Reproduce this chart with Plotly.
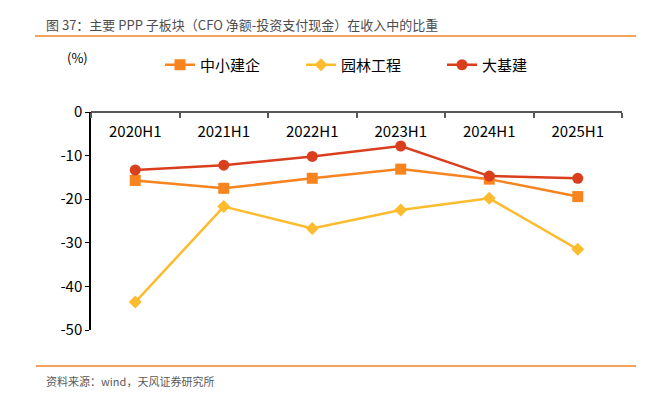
import plotly.graph_objects as go

categories = ["2020H1", "2021H1", "2022H1", "2023H1", "2024H1", "2025H1"]
sme = [-15.7, -17.5, -15.2, -13.1, -15.4, -19.4]
garden = [-43.6, -21.7, -26.7, -22.5, -19.8, -31.5]
infra = [-13.3, -12.2, -10.2, -7.8, -14.7, -15.2]
y_ticks = [0, -10, -20, -30, -40, -50]
y_tick_text = ["0", "-10", "-20", "-30", "-40", "-50"]

FONT = "Noto Sans CJK SC, Open Sans, sans-serif"
W, H = 657, 398
L, R, T, B = 91, 35, 112, 68

fig = go.Figure()
fig.add_trace(go.Scatter(x=categories, y=sme, name="中小建企", mode="lines+markers",
                         line=dict(color="#F7841F", width=2.5),
                         marker=dict(symbol="square", size=11, color="#F7841F")))
fig.add_trace(go.Scatter(x=categories, y=garden, name="园林工程", mode="lines+markers",
                         line=dict(color="#FDBB2E", width=2.5),
                         marker=dict(symbol="diamond", size=10, color="#FDBB2E")))
fig.add_trace(go.Scatter(x=categories, y=infra, name="大基建", mode="lines+markers",
                         line=dict(color="#DA3F1D", width=2.5),
                         marker=dict(symbol="circle", size=11, color="#DA3F1D")))

pw = W - L - R
ph = H - T - B

def px_x(p):
    return (p - L) / pw

def px_y(p):
    return (H - B - p) / ph

fig.update_layout(
    width=W, height=H,
    margin=dict(l=L, r=R, t=T, b=B, autoexpand=False),
    paper_bgcolor="white", plot_bgcolor="white",
    font=dict(family=FONT, color="#000000", size=14),
    showlegend=True,
    legend=dict(orientation="h", x=px_x(160), y=px_y(65), xanchor="left", yanchor="middle",
                font=dict(size=15, color="#000000", family=FONT),
                entrywidth=96, entrywidthmode="pixels", itemwidth=30,
                bgcolor="rgba(0,0,0,0)"),
    xaxis=dict(type="category", side="bottom", anchor="free", position=1,
               showline=True, linecolor="#595959", linewidth=1.5,
               ticks="outside", ticklen=5, tickcolor="#595959", tickwidth=1.5,
               tickson="boundaries", showgrid=False, zeroline=False,
               ticklabelstandoff=6,
               tickfont=dict(size=15, color="#000000"), range=[-0.5, 5.5]),
    yaxis=dict(range=[-50, 0], tickvals=y_ticks, ticktext=y_tick_text, showline=True,
               linecolor="#000000", linewidth=1.5, ticks="outside", ticklen=4,
               tickcolor="#000000", showgrid=False, zeroline=False,
               tickfont=dict(size=15, color="#000000")),
)

shapes = [
    dict(type="line", xref="paper", yref="paper", x0=px_x(35), x1=px_x(636),
         y0=px_y(36), y1=px_y(36), line=dict(color="#F5A25A", width=2)),
    dict(type="line", xref="paper", yref="paper", x0=px_x(36), x1=px_x(636),
         y0=px_y(366), y1=px_y(366), line=dict(color="#F5A25A", width=2)),
]
fig.update_layout(shapes=shapes)

fig.add_annotation(text="图 37：主要 PPP 子板块（CFO 净额-投资支付现金）在收入中的比重",
                   xref="paper", yref="paper", x=px_x(44), y=px_y(24),
                   xanchor="left", yanchor="middle", showarrow=False,
                   font=dict(size=13, color="#4D4D4D", family=FONT))
fig.add_annotation(text="(%)", xref="paper", yref="paper", x=px_x(65), y=px_y(57),
                   xanchor="left", yanchor="middle", showarrow=False,
                   font=dict(size=13, color="#000000", family=FONT))
fig.add_annotation(text="资料来源：wind，天风证券研究所", xref="paper", yref="paper",
                   x=px_x(44), y=px_y(381), xanchor="left", yanchor="middle", showarrow=False,
                   font=dict(size=11, color="#595959", family=FONT))

fig.write_html("out.html", config={"displayModeBar": False},
               post_script="document.body.style.margin='0';document.body.style.overflow='hidden';")
